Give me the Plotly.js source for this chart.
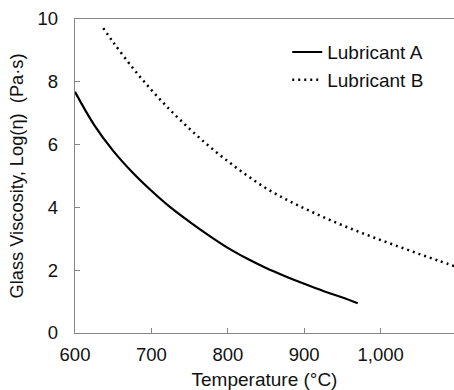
<!DOCTYPE html>
<html>
<head>
<meta charset="utf-8">
<script src="https://cdn.plot.ly/plotly-3.0.1.min.js"></script>
<style>
html,body{margin:0;padding:0;background:#fff;}
#chart{width:454px;height:390px;}
</style>
</head>
<body>
<div id="chart"></div>
<script>
// Lubricant A: temperature (°C) vs log viscosity
const tempA = [600, 625, 650, 675, 700, 725, 750, 775, 800, 825, 850, 875, 900, 925, 950, 970];
const viscA = [7.68, 6.63, 5.80, 5.12, 4.53, 4.00, 3.54, 3.11, 2.71, 2.37, 2.07, 1.81, 1.57, 1.34, 1.13, 0.95];
// Lubricant B
const tempB = [637, 650, 675, 700, 725, 750, 775, 800, 825, 850, 875, 900, 925, 950, 975, 1000, 1025, 1050, 1075, 1100];
const viscB = [9.71, 9.26, 8.46, 7.74, 7.09, 6.50, 5.96, 5.47, 5.02, 4.61, 4.27, 3.97, 3.69, 3.43, 3.19, 2.96, 2.74, 2.52, 2.31, 2.10];
const seriesNames = ["Lubricant A", "Lubricant B"];
const xTicks = [600, 700, 800, 900, 1000];
const xTickText = ["600", "700", "800", "900", "1,000"];
const yTicks = [0, 2, 4, 6, 8, 10];

const FONT = "'Liberation Sans', Arial, sans-serif";
const AXIS = "#868686";
const TXT = "#111";

const traces = [
  {x: tempA, y: viscA, name: seriesNames[0], type: "scatter", mode: "lines",
   line: {color: "#000", width: 2.2, shape: "spline", smoothing: 1}},
  {x: tempB, y: viscB, name: seriesNames[1], type: "scatter", mode: "lines",
   line: {color: "#000", width: 2.5, dash: "2px,4px", shape: "spline", smoothing: 1}}
];

const layout = {
  width: 454, height: 390,
  margin: {l: 75, r: 0, t: 19, b: 57},
  paper_bgcolor: "#fff", plot_bgcolor: "#fff",
  font: {family: FONT, size: 19, color: TXT},
  showlegend: true,
  legend: {x: 0.56, y: 0.955, xanchor: "left", yanchor: "top",
           bgcolor: "rgba(0,0,0,0)", font: {family: FONT, size: 19, color: TXT},
           itemwidth: 30, tracegroupgap: 0},
  xaxis: {
    range: [600, 1096], tickvals: xTicks, ticktext: xTickText,
    showgrid: false, zeroline: false,
    showline: true, linecolor: AXIS, linewidth: 1.3, mirror: true,
    ticks: "inside", ticklen: 5, tickcolor: AXIS, tickwidth: 1,
    ticklabelstandoff: 4,
    tickfont: {family: FONT, size: 18.5, color: TXT},
    title: {text: "Temperature (°C)", font: {family: FONT, size: 19, color: TXT}, standoff: 10}
  },
  yaxis: {
    range: [0, 10], tickvals: yTicks,
    showgrid: false, zeroline: false,
    showline: true, linecolor: AXIS, linewidth: 1.3,
    ticks: "inside", ticklen: 5, tickcolor: AXIS, tickwidth: 1,
    ticklabelstandoff: 12,
    tickfont: {family: FONT, size: 18.5, color: TXT},
    title: {text: "Glass Viscosity, Log(η)  (Pa·s)", font: {family: FONT, size: 18.3, color: TXT}, standoff: 9}
  }
};

Plotly.newPlot("chart", traces, layout, {staticPlot: true, displayModeBar: false});
</script>
</body>
</html>
